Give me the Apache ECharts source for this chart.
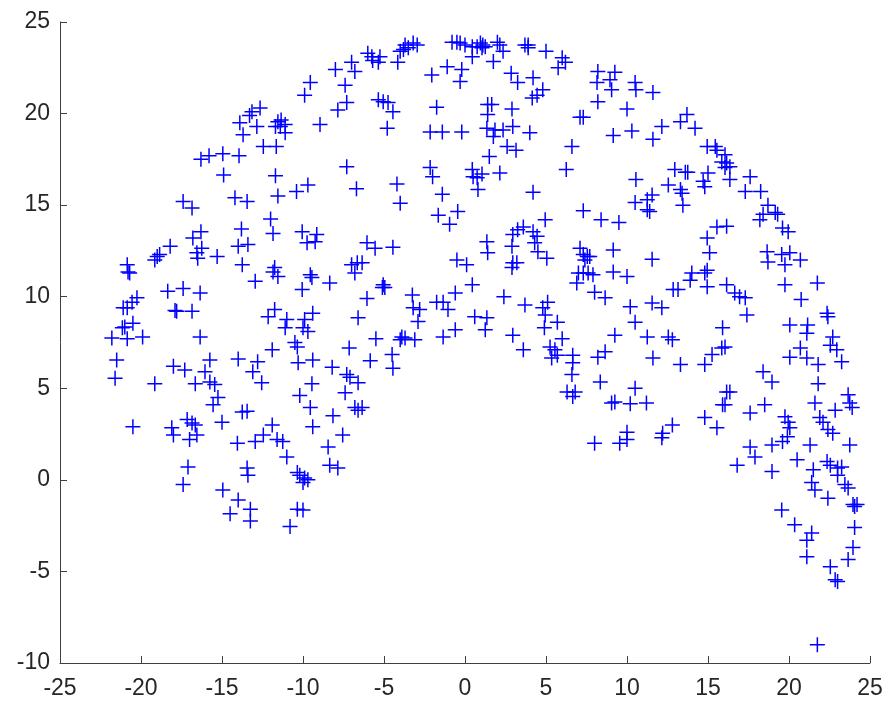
<!DOCTYPE html>
<html>
<head>
<meta charset="utf-8">
<script src="https://cdn.jsdelivr.net/npm/echarts@6/dist/echarts.min.js"></script>
<style>
html,body{margin:0;padding:0;background:#fff;}
#chart{width:890px;height:706px;}
</style>
</head>
<body>
<div id="chart"></div>
<script>
// Axis ticks
const xTicks = [-25, -20, -15, -10, -5, 0, 5, 10, 15, 20, 25];
const yTicks = [-10, -5, 0, 5, 10, 15, 20, 25];

// Point coordinates (x values and y values)
const pointX = [
-12.65,-13.15,-13.3,-13.9,-12.85,-11.55,-11.35,-11.7,-11.4,-11.1,-11.1,-13.7,-12.45,-11.65,-16.3,-15.8,-14.95,-13.95,-14.9,-11.7,-17.4,-16.85,-14.2,-13.45,-11.55,-12.0,-13.8,-11.85,-16.3,-16.8,
-6.0,-5.75,-5.25,-5.35,-5.7,-3.7,-3.8,-4.0,-3.2,-2.95,-3.5,-0.8,-0.5,-0.3,0,0.45,0.75,0.45,-7.0,-8.0,-6.8,-4.15,-1.1,-0.2,-2.05,-0.3,-9.55,-9.9,-7.4,-7.3,-7.85,-5.35,-5.05,-4.75,-4.45,-1.75,-8.95,-4.8,-2.15,-1.4,-0.2,-7.3,-2.15,-2.0,0.45,0.5,0.75,0.8,-9.7,-10.4,-6.7,-4.2,-4.0,-1.4,-1.65,-0.45,-0.95,-10.05,-9.15,
0.95,1.1,1.25,1.05,2.0,2.15,2.35,1.75,3.7,3.9,3.9,5.0,6.0,6.2,5.75,2.85,3.25,4.2,4.8,4.45,4.15,8.2,9.25,8.95,8.15,9.05,10.5,10.55,11.6,8.2,10.0,1.4,1.65,1.4,2.9,7.1,7.3,1.35,1.85,1.75,2.35,2.95,4.0,9.15,10.3,11.6,12.15,2.6,3.15,1.5,6.6,2.15,1.05,6.25,4.2,10.55,12.55,10.5,11.25,11.55,11.25,11.4,7.3,8.4,9.5,4.95,3.6,3.25,2.95,4.2,4.45,
13.3,13.7,14.2,14.95,15.45,15.55,16.05,15.85,16.15,16.35,16.05,16.35,12.95,13.6,13.75,13.4,13.45,13.3,15.0,14.7,14.8,17.6,17.3,18.25,18.7,18.4,18.2,19.15,19.3,19.6,19.95,15.55,16.15,14.95,
-18.2,-19.0,-19.15,-18.85,-20.85,-20.8,-20.7,-16.25,-16.5,-16.55,-15.3,-14.0,-13.4,-13.75,-12.95,-11.75,-11.55,-11.85,-18.35,-17.4,-16.35,-20.25,-20.55,-20.85,-21.1,-17.9,-17.8,-16.85,-20.5,-21.0,-21.15,-21.8,-20.85,-19.9,-16.35,-12.15,-11.75,-11.0,-11.1,-11.9,-21.5,-21.6,-19.15,-18.0,-17.3,-16.65,-15.75,-16.05,-15.75,-15.45,-15.25,-15.55,-14.0,-12.8,-13.1,-12.55,-13.75,-13.45,-20.5,-18.1,-18.0,-17.15,-16.85,-16.65,-17.0,-16.55,-15.0,-11.9,-12.45,-12.95,-11.6,-11.25,-14.05,
-9.75,-9.25,-5.55,-4.45,-7.0,-6.65,-6.35,-6.8,-9.55,-9.45,-10.05,-8.35,-5.05,-4.95,-5.1,-6.05,-6.6,-3.25,-3.2,-2.8,-2.9,-1.75,-1.35,-1.05,-0.6,0.45,-0.5,0.1,0.6,-1.35,-0.6,-3.9,-3.7,-4.0,-3.1,-4.5,-4.45,-5.5,-7.15,-9.4,-9.9,-10.0,-9.7,-10.5,-10.35,-10.3,-9.4,-8.2,-7.3,-7.1,-6.6,-5.85,-9.45,-10.2,-7.4,-9.55,-8.15,-6.8,-6.6,-6.35,-9.4,-7.55,-8.45,-6.05,
1.35,1.4,2.9,2.95,3.2,2.9,4.3,4.5,5.05,7.1,7.3,7.55,7.7,7.4,9.15,11.55,7.0,7.3,7.6,7.9,6.9,9.15,10.0,8.0,8.65,2.4,3.7,4.8,5.1,4.95,4.9,5.7,10.2,11.55,12.15,12.85,10.5,11.25,12.55,12.8,9.25,1.35,1.25,2.95,3.6,6.0,5.25,5.55,5.7,5.35,6.65,6.65,6.6,8.2,8.65,11.6,8.35,6.3,6.8,6.65,9.05,9.25,10.2,11.2,10.5,10.0,10.0,9.55,8.0,12.2,12.15,12.8,
15.1,14.95,14.8,14.0,13.9,14.95,13.15,16.15,16.65,16.95,17.3,17.4,18.65,18.7,19.55,19.75,20.05,20.7,19.75,21.75,20.75,22.35,22.4,20.05,21.15,21.1,22.7,22.55,22.95,23.25,20.7,20.05,21.1,21.8,15.9,16.05,15.85,15.25,14.8,13.3,18.4,18.95,21.8,16.15,16.35,16.05,15.9,17.6,18.5,14.8,15.55,21.6,23.65,23.75,23.9,22.85,19.75,19.95,20.05,19.9,19.6,21.9,22.1,22.4,22.7,17.6,18.95,21.3,23.75,
-17.1,-17.4,-13.45,-13.4,-14.95,-14.0,-13.25,-14.5,-13.25,-11.0,-10.8,
-8.35,-7.85,-10.35,-10.2,-9.9,-9.7,-10.0,-10.35,-10.0,
16.8,17.9,18.95,20.5,21.5,22.35,22.55,23.0,23.25,23.0,21.4,21.6,22.4,23.45,23.65,23.95,24.05,24.2,19.55,20.35,21.4,21.1,21.1,22.55,22.85,23.0,23.65,23.95,24.05,21.75
];
const pointY = [
20.3,20.1,19.9,19.5,19.3,19.55,19.65,19.3,19.3,19.4,18.95,18.85,18.2,18.2,17.5,17.7,17.8,17.7,16.65,16.6,15.2,14.85,15.4,15.2,15.5,14.25,13.7,13.45,13.55,13.2,
23.3,23.1,23.1,22.8,22.9,23.75,23.5,23.4,23.85,23.75,23.6,23.9,23.9,23.85,23.75,23.65,23.65,23.1,22.8,22.4,22.3,22.8,22.55,22.4,22.1,21.75,21.7,21.0,21.55,20.6,20.2,20.75,20.65,20.6,20.1,20.35,19.4,19.2,19.0,19.0,19.0,17.1,17.05,16.55,16.95,16.55,16.5,15.85,16.1,15.75,15.9,16.15,15.1,15.6,14.45,14.65,13.95,13.55,13.4,
23.85,23.75,23.65,23.6,23.9,23.75,23.4,22.85,23.75,23.75,23.6,23.4,23.05,22.8,22.5,22.2,21.7,21.95,21.3,21.0,20.85,22.3,22.25,21.85,21.7,21.3,21.7,21.3,21.15,20.65,20.25,20.5,20.5,19.95,20.25,19.8,19.8,19.2,19.1,18.75,19.1,19.3,18.95,18.8,19.05,18.6,19.3,18.2,18.0,17.65,18.2,16.75,16.7,16.95,15.7,16.4,16.1,15.15,15.3,15.55,14.75,14.65,14.7,14.2,14.05,14.2,13.8,13.65,13.4,13.55,13.3,
19.55,19.95,19.2,18.2,18.2,18.0,17.75,17.35,17.3,17.1,17.05,16.4,16.95,16.8,16.8,15.65,15.0,15.85,16.75,16.3,16.0,16.55,15.75,15.75,15.0,14.5,14.2,14.6,14.5,13.75,13.55,13.8,13.85,13.2,
12.75,12.2,12.0,12.3,11.75,11.35,11.3,12.65,12.1,12.4,12.2,12.75,12.85,11.75,10.85,11.6,11.1,11.35,10.3,10.45,10.2,9.95,9.7,9.4,9.4,9.25,9.2,9.2,8.55,8.35,8.3,7.75,7.7,7.8,7.8,8.9,9.3,8.75,8.3,7.1,6.55,5.55,5.25,6.2,6.0,5.25,6.55,5.9,5.35,5.2,4.5,4.1,6.6,6.45,5.9,5.3,3.7,3.75,2.9,2.85,2.45,3.3,3.1,3.0,2.2,2.45,3.15,3.0,2.45,2.1,2.2,2.1,2.0,
12.95,13.0,12.65,12.7,11.75,11.85,11.85,11.3,11.2,11.05,10.4,10.75,10.65,10.5,10.5,9.9,8.85,10.1,9.4,9.3,8.65,9.7,9.7,9.3,10.2,10.65,12.0,11.75,8.9,7.8,8.2,7.8,7.75,7.65,7.65,6.85,6.1,7.7,7.2,9.1,8.75,8.3,8.1,7.5,7.25,6.4,6.55,6.15,5.75,5.6,5.3,6.5,5.25,4.6,4.75,3.95,3.5,3.95,3.8,3.95,2.9,2.45,1.8,12.95,
13.0,12.4,12.75,11.85,11.85,11.6,12.95,12.45,12.1,12.65,12.3,12.2,12.2,12.0,12.55,12.05,11.3,11.3,11.3,11.2,10.75,11.35,11.1,10.25,9.95,10.0,9.55,9.4,9.7,9.0,8.3,8.6,9.45,9.65,9.4,10.4,8.6,7.8,7.8,7.65,7.9,8.85,8.2,7.9,7.1,7.7,7.25,7.1,6.8,6.65,6.8,6.4,5.75,6.7,7.0,6.65,5.35,4.8,4.8,4.55,4.2,4.25,4.15,4.2,5.0,2.6,2.2,2.0,2.0,2.55,2.3,3.0,
12.4,11.45,11.3,11.3,10.9,10.55,10.4,10.65,10.2,10.0,9.95,9.0,12.45,11.9,12.3,11.75,12.4,12.0,10.65,10.75,9.85,9.1,8.9,8.45,8.45,8.0,7.8,7.35,7.1,6.45,7.2,6.7,6.65,6.3,8.3,7.25,7.2,6.85,6.3,6.3,5.9,5.35,5.25,4.8,4.8,4.1,4.1,3.65,4.1,3.4,2.85,4.2,4.65,4.2,3.95,3.8,3.45,3.15,2.85,2.35,2.1,3.4,3.15,2.75,2.55,1.8,1.9,1.9,1.9,
0.7,-0.25,0.65,0.25,-0.55,-1.1,-1.6,-1.85,-2.25,1.25,-2.55,
0.8,0.65,0.4,0.25,0.1,0.0,-0.15,-1.6,-1.65,
0.8,1.25,0.45,1.1,0.55,1.0,0.8,0.65,0.7,0.25,-0.15,-0.55,-1.0,-0.25,-0.45,-1.35,-1.45,-1.35,-1.65,-2.45,-2.9,-3.3,-4.2,-4.75,-5.45,-5.55,-4.35,-3.7,-2.6,-9.0
];

const points = pointX.map((x, i) => [x, pointY[i]]);

const axisColor = '#404040';
const labelColor = '#262626';
const chart = echarts.init(document.getElementById('chart'), null, {renderer: 'canvas'});
chart.setOption({
  animation: false,
  backgroundColor: '#ffffff',
  grid: {left: 60, right: 20, top: 22, bottom: 43, containLabel: false},
  xAxis: {
    type: 'value',
    min: xTicks[0], max: xTicks[xTicks.length - 1], interval: 5,
    axisLine: {show: true, onZero: false, lineStyle: {color: axisColor, width: 1}},
    axisTick: {show: true, inside: true, length: 7, lineStyle: {color: axisColor}},
    axisLabel: {color: labelColor, fontSize: 23, fontFamily: 'Liberation Sans, Arial, sans-serif', margin: 14},
    splitLine: {show: false}
  },
  yAxis: {
    type: 'value',
    min: yTicks[0], max: yTicks[yTicks.length - 1], interval: 5,
    axisLine: {show: true, onZero: false, lineStyle: {color: axisColor, width: 1}},
    axisTick: {show: true, inside: true, length: 7, lineStyle: {color: axisColor}},
    axisLabel: {color: labelColor, fontSize: 23, fontFamily: 'Liberation Sans, Arial, sans-serif', margin: 10},
    splitLine: {show: false}
  },
  series: [{
    type: 'scatter',
    data: points,
    symbol: 'path://M5,0L5,10M0,5L10,5',
    symbolSize: 15,
    itemStyle: {color: '#0000ff', borderColor: '#0000ff', borderWidth: 1.5, opacity: 1},
    emphasis: {disabled: true}
  }]
});
</script>
</body>
</html>
